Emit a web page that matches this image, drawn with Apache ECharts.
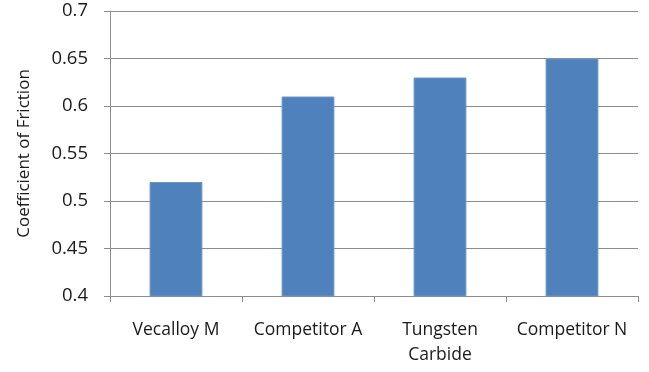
<!DOCTYPE html>
<html><head><meta charset="utf-8">
<script src="https://cdn.jsdelivr.net/npm/echarts@6/dist/echarts.min.js"></script>
<style>html,body{margin:0;padding:0;background:#fff}#c{width:649px;height:372px}</style>
</head><body><div id="c"></div>
<script>
const categories = ['Vecalloy M', 'Competitor A', 'Tungsten\nCarbide', 'Competitor N'];
const values = [0.52, 0.61, 0.63, 0.65];
const yTitle = 'Coefficient of Friction';
const font = '"Open Sans", "Noto Sans", sans-serif';
const chart = echarts.init(document.getElementById('c'), null, {renderer: 'canvas'});
chart.setOption({
  animation: false,
  grid: {left: 110, right: 11, top: 11, bottom: 76},
  xAxis: {
    type: 'category', data: categories,
    axisLine: {lineStyle: {color: '#8c8c8c', width: 1}},
    axisTick: {show: true, length: 6, lineStyle: {color: '#8c8c8c'}},
    axisLabel: {color: '#1a1a1a', fontSize: 17.5, fontFamily: font, margin: 22, lineHeight: 25, interval: 0}
  },
  yAxis: {
    type: 'value', min: 0.4, max: 0.7, interval: 0.05,
    name: yTitle, nameLocation: 'middle', nameGap: 77,
    nameTextStyle: {color: '#1a1a1a', fontSize: 17, fontFamily: font},
    axisLine: {show: true, lineStyle: {color: '#8c8c8c'}},
    axisTick: {show: true, length: 6, lineStyle: {color: '#8c8c8c'}},
    splitLine: {lineStyle: {color: '#8c8c8c'}},
    axisLabel: {color: '#1a1a1a', fontSize: 18.5, fontFamily: font, margin: 22,
      formatter: v => String(Math.round(v * 100) / 100)}
  },
  series: [{
    type: 'bar', data: values, barWidth: '40%',
    itemStyle: {color: '#4F81BD', borderColor: '#6a96cc', borderWidth: 1}
  }]
});
</script></body></html>
